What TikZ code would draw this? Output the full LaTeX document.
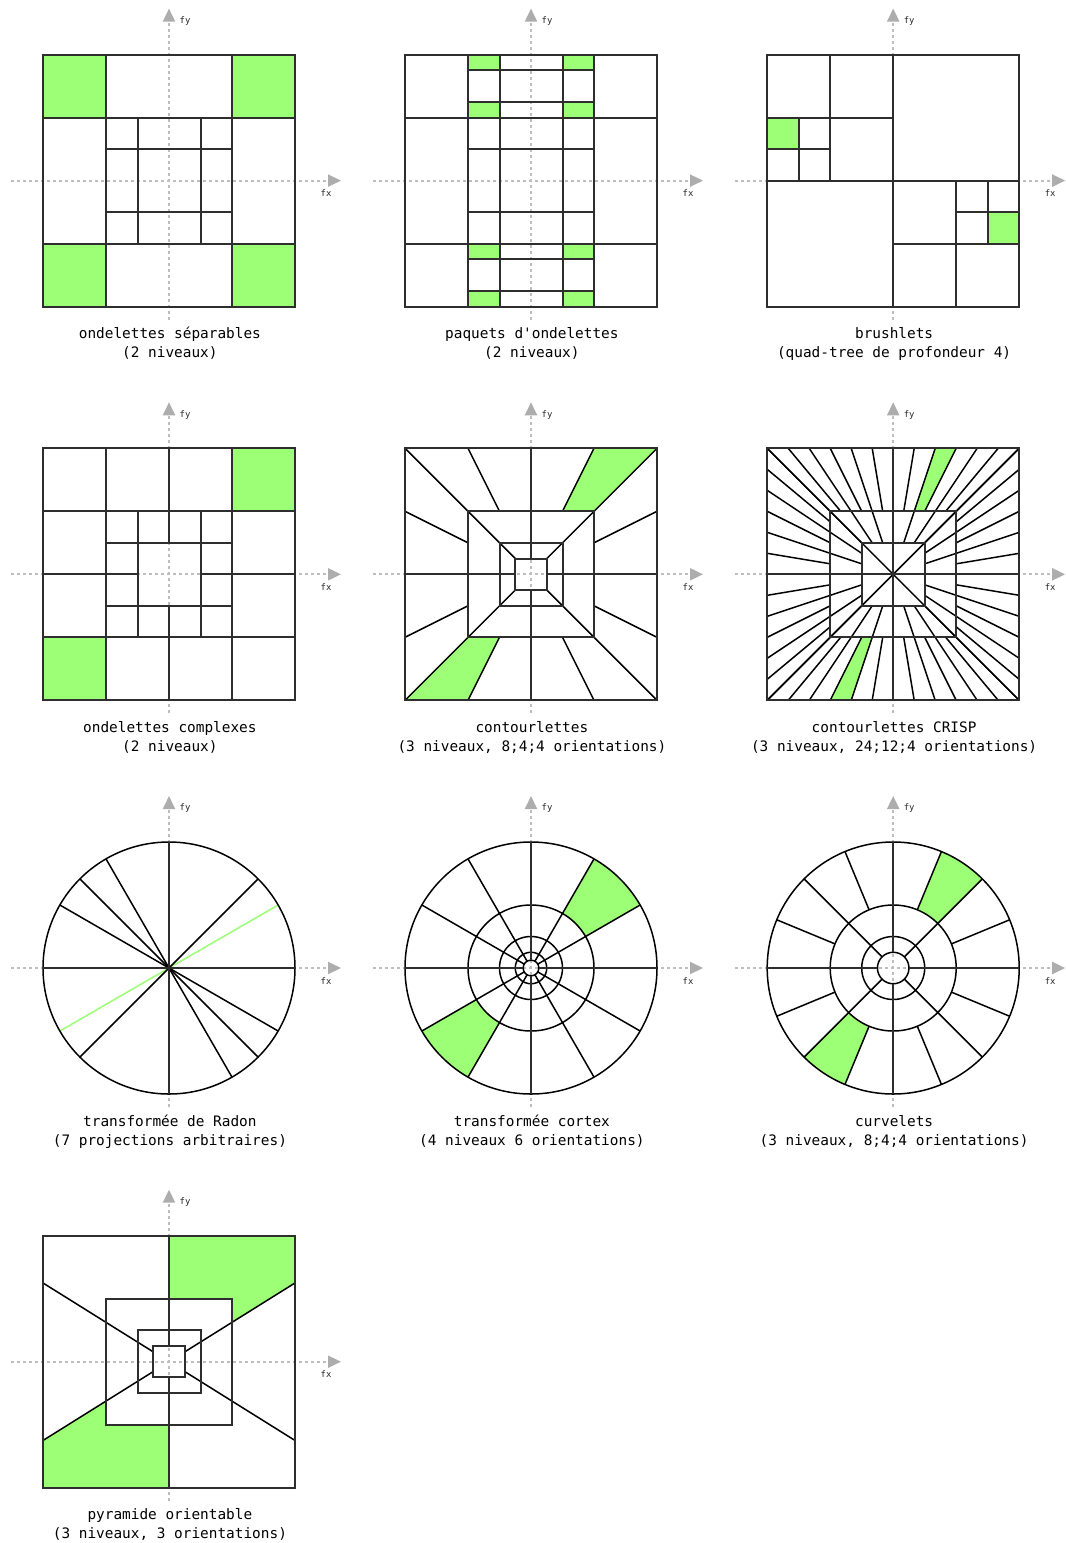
\documentclass[tikz,border=0pt]{standalone}
\usepackage{fontspec}
\usetikzlibrary{arrows.meta}
\newfontfamily\capfont{DejaVu Sans Mono}
\definecolor{grn}{HTML}{9CFF75}
\definecolor{axisgray}{HTML}{BEBEBE}
\definecolor{tipgray}{HTML}{ADADAD}
\tikzset{
  axisline/.style={draw=axisgray,line width=2pt,dash pattern=on 3pt off 3pt,
    -{Triangle[length=13pt,width=12pt,fill=tipgray,color=tipgray]}},
  axislabel/.style={font=\capfont\fontsize{8.9pt}{10pt}\selectfont,text=black!85,inner sep=0pt,anchor=base},
  caption/.style={font=\capfont\fontsize{14.4pt}{19pt}\selectfont,align=center,inner sep=0pt,text=black},
  ink/.style={draw=black!82,line width=2pt,line join=miter},
  slant/.style={draw=black,line width=1.5pt,line join=miter},
  leaf/.style={fill=grn,draw=none},
  leafline/.style={draw=grn,line width=1.5pt},
}
% #1 id, #2 cx, #3 cy, #4 caption, #5 drawing
\newcommand{\panelbox}[5]{%
\begin{scope}[shift={(#2pt,-#3pt)},x=15.75pt,y=15.75pt]
  \coordinate (#1xa) at (-158pt,0pt);
  \coordinate (#1xb) at (172pt,0pt);
  \coordinate (#1ya) at (0pt,-139pt);
  \coordinate (#1yb) at (0pt,172pt);
  \draw[axisline] (#1xa) -- (#1xb);
  \draw[axisline] (#1ya) -- (#1yb);
  \node[axislabel] (#1fx) at (157pt,-16pt) {fx};
  \node[axislabel] (#1fy) at (16pt,157.2pt) {fy};
  #5
  \node[caption] (#1cap) at (0.9pt,-163.7pt) {\strut #4\strut};
\end{scope}}
\begin{document}
\begin{tikzpicture}[x=1pt,y=1pt]
\useasboundingbox[fill=white] (0,0) rectangle (1066,-1543);

% 1 ondelettes separables
\panelbox{a}{169}{180.6}{ondelettes séparables\\(2 niveaux)}{
  \foreach \sx/\sy in {-8/4,4/4,-8/-8,4/-8} \fill[leaf] (\sx,\sy) rectangle ++(4,4);
  \draw[ink] (-8,-8) rectangle (8,8);
  \draw[ink] (-4,-8) -- (-4,8) (4,-8) -- (4,8) (-8,4) -- (8,4) (-8,-4) -- (8,-4);
  \draw[ink] (-2,-4) -- (-2,4) (2,-4) -- (2,4) (-4,2) -- (4,2) (-4,-2) -- (4,-2);
}
% 2 paquets
\panelbox{b}{531}{180.6}{paquets d'ondelettes\\(2 niveaux)}{
  \foreach \sx in {-4,2} \foreach \sy in {7,4,-5,-8} \fill[leaf] (\sx,\sy) rectangle ++(2,1);
  \draw[ink] (-8,-8) rectangle (8,8);
  \draw[ink] (-4,-8) -- (-4,8) (4,-8) -- (4,8) (-2,-8) -- (-2,8) (2,-8) -- (2,8);
  \draw[ink] (-8,4) -- (8,4) (-8,-4) -- (8,-4);
  \foreach \ly in {7,5,2,-2,-5,-7} \draw[ink] (-4,\ly) -- (4,\ly);
}
% 3 brushlets
\panelbox{c}{893.2}{180.6}{brushlets\\(quad-tree de profondeur 4)}{
  \fill[leaf] (-8,2) rectangle (-6,4);
  \fill[leaf] (6,-4) rectangle (8,-2);
  \draw[ink] (-8,-8) rectangle (8,8);
  \draw[ink] (0,-8) -- (0,8) (-8,0) -- (8,0);
  \draw[ink] (-4,0) -- (-4,8) (-8,4) -- (0,4) (-6,0) -- (-6,4) (-8,2) -- (-4,2);
  \draw[ink] (4,0) -- (4,-8) (0,-4) -- (8,-4) (6,0) -- (6,-4) (4,-2) -- (8,-2);
}
% 4 complexes
\panelbox{d}{169}{574.3}{ondelettes complexes\\(2 niveaux)}{
  \fill[leaf] (4,4) rectangle (8,8);
  \fill[leaf] (-8,-8) rectangle (-4,-4);
  \draw[ink] (-8,-8) rectangle (8,8);
  \draw[ink] (-4,-8) -- (-4,8) (4,-8) -- (4,8) (-8,4) -- (8,4) (-8,-4) -- (8,-4);
  \draw[ink] (-2,-4) -- (-2,4) (2,-4) -- (2,4) (-4,2) -- (4,2) (-4,-2) -- (4,-2);
  \draw[ink] (0,8) -- (0,2) (0,-2) -- (0,-8) (-8,0) -- (-2,0) (2,0) -- (8,0);
}
% 5 contourlettes
\panelbox{e}{531}{574.3}{contourlettes\\(3 niveaux, 8;4;4 orientations)}{
  \fill[leaf] (4,8) -- (8,8) -- (4,4) -- (2,4) -- cycle;
  \fill[leaf] (-4,-8) -- (-8,-8) -- (-4,-4) -- (-2,-4) -- cycle;
  \foreach \sx in {-1,1} \foreach \sy in {-1,1} {
    \draw[slant] (\sx*1,\sy*1) -- (\sx*8,\sy*8);
    \draw[slant] (\sx*4,\sy*8) -- (\sx*2,\sy*4);
    \draw[slant] (\sx*8,\sy*4) -- (\sx*4,\sy*2);
  }
  \foreach \r in {8,4,2,1} \draw[ink] (-\r,-\r) rectangle (\r,\r);
  \draw[ink] (0,1) -- (0,8) (0,-1) -- (0,-8) (1,0) -- (8,0) (-1,0) -- (-8,0);
}
% 6 CRISP
\panelbox{f}{893.2}{574.3}{contourlettes CRISP\\(3 niveaux, 24;12;4 orientations)}{
  \fill[leaf] ({8/3},8) -- (4,8) -- (2,4) -- ({4/3},4) -- cycle;
  \fill[leaf] ({-8/3},-8) -- (-4,-8) -- (-2,-4) -- ({-4/3},-4) -- cycle;
  \foreach \k in {-6,...,-1,1,2,...,6} {
    \draw[slant] ({\k*2/3},4) -- ({\k*4/3},8);
    \draw[slant] ({\k*2/3},-4) -- ({\k*4/3},-8);
    \draw[slant] (4,{\k*2/3}) -- (8,{\k*4/3});
    \draw[slant] (-4,{\k*2/3}) -- (-8,{\k*4/3});
  }
  \foreach \k in {-3,-2,-1,1,2,3} {
    \draw[slant] ({\k*2/3},2) -- ({\k*4/3},4);
    \draw[slant] ({\k*2/3},-2) -- ({\k*4/3},-4);
    \draw[slant] (2,{\k*2/3}) -- (4,{\k*4/3});
    \draw[slant] (-2,{\k*2/3}) -- (-4,{\k*4/3});
  }
  \draw[slant] (-2,-2) -- (2,2) (-2,2) -- (2,-2);
  \foreach \r in {8,4,2} \draw[ink] (-\r,-\r) rectangle (\r,\r);
  \draw[ink] (0,-8) -- (0,8) (-8,0) -- (8,0);
}
% 7 Radon
\panelbox{g}{169}{968}{transformée de Radon\\(7 projections arbitraires)}{
  \draw[leafline] (30:8) -- (210:8);
  \draw[slant] (0,0) circle[radius=8];
  \foreach \a in {45,120,135,150} \draw[slant] (\a:8) -- (\a+180:8);
  \draw[ink] (-8,0) -- (8,0) (0,-8) -- (0,8);
}
% 8 cortex
\panelbox{h}{531}{968}{transformée cortex\\(4 niveaux 6 orientations)}{
  \fill[leaf] (30:4) -- (30:8) arc[start angle=30,end angle=60,radius=8] -- (60:4) arc[start angle=60,end angle=30,radius=4] -- cycle;
  \fill[leaf] (210:4) -- (210:8) arc[start angle=210,end angle=240,radius=8] -- (240:4) arc[start angle=240,end angle=210,radius=4] -- cycle;
  \foreach \r in {8,4,2,1,0.5} \draw[slant] (0,0) circle[radius=\r];
  \foreach \a in {30,60,120,150,210,240,300,330} \draw[slant] (\a:0.5) -- (\a:8);
  \foreach \a in {0,90,180,270} \draw[ink] (\a:0.5) -- (\a:8);
}
% 9 curvelets
\panelbox{i}{893.2}{968}{curvelets\\(3 niveaux, 8;4;4 orientations)}{
  \fill[leaf] (45:4) -- (45:8) arc[start angle=45,end angle=67.5,radius=8] -- (67.5:4) arc[start angle=67.5,end angle=45,radius=4] -- cycle;
  \fill[leaf] (225:4) -- (225:8) arc[start angle=225,end angle=247.5,radius=8] -- (247.5:4) arc[start angle=247.5,end angle=225,radius=4] -- cycle;
  \foreach \r in {8,4,2,1} \draw[slant] (0,0) circle[radius=\r];
  \foreach \a in {45,135,225,315} \draw[slant] (\a:1) -- (\a:8);
  \foreach \a in {22.5,67.5,112.5,157.5,202.5,247.5,292.5,337.5} \draw[slant] (\a:4) -- (\a:8);
  \foreach \a in {0,90,180,270} \draw[ink] (\a:1) -- (\a:8);
}
% 10 pyramide
\panelbox{j}{169}{1361.7}{pyramide orientable\\(3 niveaux, 3 orientations)}{
  \fill[leaf] (0,8) -- (8,8) -- (8,5) -- (4,2.5) -- (4,4) -- (0,4) -- cycle;
  \fill[leaf] (0,-8) -- (-8,-8) -- (-8,-5) -- (-4,-2.5) -- (-4,-4) -- (0,-4) -- cycle;
  \draw[slant] (1,0.625) -- (8,5) (-1,0.625) -- (-8,5) (1,-0.625) -- (8,-5) (-1,-0.625) -- (-8,-5);
  \foreach \r in {8,4,2,1} \draw[ink] (-\r,-\r) rectangle (\r,\r);
  \draw[ink] (0,1) -- (0,8) (0,-1) -- (0,-8);
}
\end{tikzpicture}
\end{document}
